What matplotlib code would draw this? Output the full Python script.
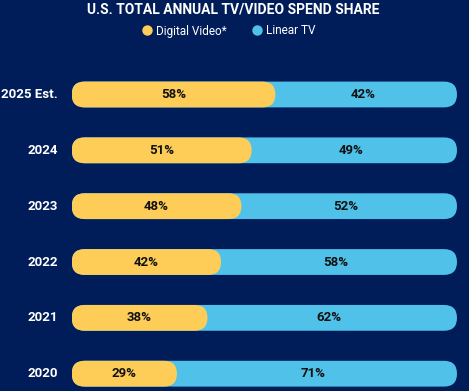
import matplotlib
matplotlib.use("Agg")
import matplotlib.pyplot as plt
from matplotlib.patches import FancyBboxPatch
from matplotlib.lines import Line2D

# data
years = ['2020', '2021', '2022', '2023', '2024', '2025 Est.']
digital_video = [29, 38, 42, 48, 51, 58]
linear_tv = [71, 62, 58, 52, 49, 42]

BG = '#001d5a'
YELLOW = '#fecd57'
BLUE = '#50c1e8'
FONT = ['Liberation Sans Narrow', 'Roboto', 'DejaVu Sans']

plt.rcParams['font.family'] = FONT

fig = plt.figure(figsize=(4.69, 3.91), dpi=100, facecolor=BG)
ax = fig.add_axes([71.7 / 469, 0, 385.3 / 469, 1])
ax.set_facecolor(BG)

# bars sit on a track that runs a bit past 100
xmin, xmax = -2, 111.5
ax.set_xlim(xmin, xmax)
ax.set_ylim(-0.31, -0.31 + 391 / 55.84)
ax.axis('off')

bar_h = 0.462
# rounding in x units and the aspect to keep the ends circular
px_x = ax.transData.transform([(1, 0)])[0][0] - ax.transData.transform([(0, 0)])[0][0]
px_y = ax.transData.transform([(0, 1)])[0][1] - ax.transData.transform([(0, 0)])[0][1]
aspect = px_x / px_y
r = bar_h / 2 / aspect

for i, (year, dv, lt) in enumerate(zip(years, digital_video, linear_tv)):
    track = FancyBboxPatch((xmin, i - bar_h / 2), xmax - xmin, bar_h,
                           boxstyle=f'round,pad=0,rounding_size={r}',
                           mutation_aspect=aspect, fc=BLUE, ec='none')
    ax.add_patch(track)
    seg = FancyBboxPatch((xmin, i - bar_h / 2), dv - xmin, bar_h,
                         boxstyle=f'round,pad=0,rounding_size={r}',
                         mutation_aspect=aspect, fc=YELLOW, ec='none')
    ax.add_patch(seg)
    ax.text((xmin + dv) / 2, i, f'{dv}%', ha='center', va='center',
            fontsize=9.5, fontweight='bold', color='#111111')
    ax.text((dv + xmax) / 2 - 1, i, f'{lt}%', ha='center', va='center',
            fontsize=9.5, fontweight='bold', color='#111111')
    ax.text(-0.036, i, year, transform=ax.get_yaxis_transform(), ha='right',
            va='center', fontsize=9.5, fontweight='bold', color='white')

fig.text(0.497, 1 - 10 / 391, 'U.S. TOTAL ANNUAL TV/VIDEO SPEND SHARE',
         ha='center', va='center', fontsize=10, fontweight='bold', color='white')

handles = [Line2D([], [], marker='o', ls='none', ms=7.5, mfc=YELLOW, mec='none'),
           Line2D([], [], marker='o', ls='none', ms=7.5, mfc=BLUE, mec='none')]
fig.legend(handles, ['Digital Video*', 'Linear TV'], loc='center',
           bbox_to_anchor=(0.487, 1 - 31 / 391), ncol=2, frameon=False,
           fontsize=8.5, labelcolor='white', handletextpad=0.3,
           columnspacing=2.0, handlelength=1.0)

fig.savefig('out.png', dpi=100, facecolor=BG)
